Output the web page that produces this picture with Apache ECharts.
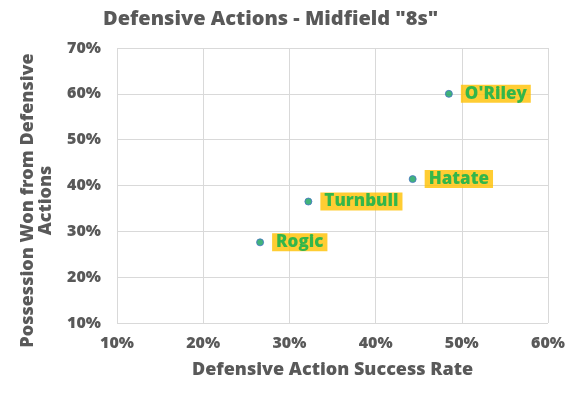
<!DOCTYPE html>
<html><head><meta charset="utf-8">
<script src="https://cdn.jsdelivr.net/npm/echarts@6/dist/echarts.min.js"></script>
<style>html,body{margin:0;padding:0;background:#fff}#c{width:575px;height:394px}</style>
</head><body><div id="c"></div>
<script>
const players = ["O'Riley", "Hatate", "Turnbull", "Rogic"];
const successRate = [48.5, 44.3, 32.2, 26.6];
const possessionWon = [60.0, 41.4, 36.5, 27.6];
const xTicks = [10, 20, 30, 40, 50, 60];
const yTicks = [10, 20, 30, 40, 50, 60, 70];

const font = '"Open Sans", "DejaVu Sans", sans-serif';
const grey = '#595959';
const W = 800;
const chart = echarts.init(document.getElementById('c'));
chart.setOption({
  animation: false,
  title: {
    text: 'Defensive Actions - Midfield "8s"',
    left: 98, top: 4,
    textStyle: { fontFamily: font, fontWeight: W, fontSize: 20, color: grey }
  },
  grid: { left: 117, right: 27, top: 48, bottom: 71 },
  xAxis: {
    type: 'value', min: xTicks[0], max: xTicks[xTicks.length - 1], interval: 10,
    name: 'Defensive Action Success Rate', nameLocation: 'middle', nameGap: 38,
    nameTextStyle: { fontFamily: font, fontWeight: W, fontSize: 18, color: grey },
    axisLine: { show: false }, axisTick: { show: false },
    axisLabel: { formatter: '{value}%', fontFamily: font, fontWeight: W, fontSize: 16, color: grey, margin: 12 },
    splitLine: { show: true, lineStyle: { color: '#d9d9d9', width: 1 } }
  },
  yAxis: {
    type: 'value', min: yTicks[0], max: yTicks[yTicks.length - 1], interval: 10,
    name: 'Possession Won from Defensive\nActions', nameLocation: 'middle', nameGap: 62,
    nameTextStyle: { fontFamily: font, fontWeight: W, fontSize: 18, color: grey, lineHeight: 18, padding: [0, 30, 0, 0] },
    axisLine: { show: false }, axisTick: { show: false },
    axisLabel: { formatter: '{value}%', fontFamily: font, fontWeight: W, fontSize: 16, color: grey, margin: 16 },
    splitLine: { show: true, lineStyle: { color: '#d9d9d9', width: 1 } }
  },
  series: [{
    type: 'scatter',
    symbolSize: 7,
    itemStyle: { color: '#12a05a', borderColor: '#4472c4', borderWidth: 1 },
    data: players.map((p, i) => ({ name: p, value: [successRate[i], possessionWon[i]] })),
    label: {
      show: true, position: 'right', distance: 8,
      formatter: '{b}',
      fontFamily: font, fontWeight: W, fontSize: 17, color: '#00b050',
      backgroundColor: '#ffc000', padding: [1, 4, 0, 4]
    }
  }]
});
</script></body></html>
